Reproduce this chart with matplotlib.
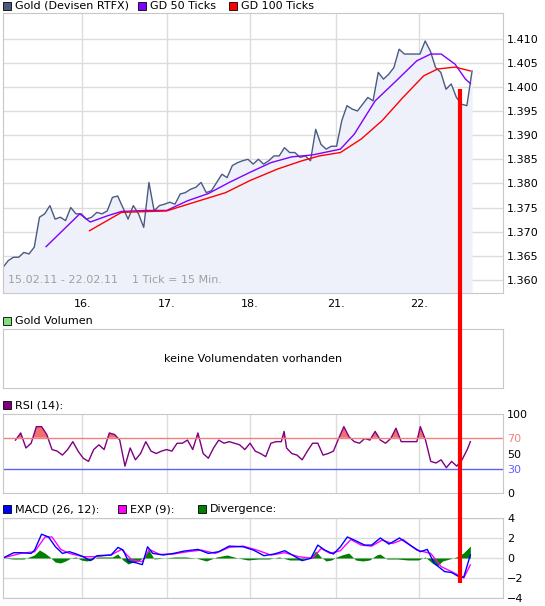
import numpy as np
import matplotlib
matplotlib.use('Agg')
import matplotlib.pyplot as plt
from matplotlib.patches import Rectangle
from matplotlib.lines import Line2D

W, H = 545, 606

# x unit: position along the time axis (15 min ticks), 16. .. 22. day boundaries
day_pos = [237, 480, 720, 966, 1206]
day_lbl = ['16.', '17.', '18.', '21.', '22.']

price = [1.3626, 1.3640, 1.3647, 1.3647, 1.3657, 1.3654, 1.3668, 1.3730, 1.3737, 1.3754,
         1.3726, 1.3730, 1.3723, 1.3750, 1.3737, 1.3737, 1.3726, 1.3730, 1.3740, 1.3737,
         1.3743, 1.3771, 1.3774, 1.3750, 1.3726, 1.3754, 1.3737, 1.3709, 1.3802, 1.3743,
         1.3754, 1.3757, 1.3761, 1.3757, 1.3778, 1.3781, 1.3788, 1.3792, 1.3802, 1.3781,
         1.3785, 1.3802, 1.3819, 1.3812, 1.3837, 1.3843, 1.3847, 1.3850, 1.3840, 1.3850,
         1.3840, 1.3847, 1.3857, 1.3857, 1.3874, 1.3864, 1.3864, 1.3854, 1.3857, 1.3847,
         1.3912, 1.3881, 1.3871, 1.3877, 1.3877, 1.3930, 1.3961, 1.3954, 1.3950, 1.3964,
         1.3978, 1.3971, 1.4030, 1.4016, 1.4026, 1.4040, 1.4078, 1.4068, 1.4068, 1.4068,
         1.4068, 1.4095, 1.4074, 1.4040, 1.4030, 1.3995, 1.4006, 1.3978, 1.3964, 1.3961,
         1.4033]
price_x = [9 + 15 * i for i in range(len(price))]

gd50_x = [133, 230, 260, 310, 350, 420, 480, 540, 600, 660, 720, 780, 840, 900, 980, 1020,
          1080, 1140, 1200, 1240, 1270, 1310, 1340, 1354]
gd50 = [1.3669, 1.3737, 1.3720, 1.3733, 1.3742, 1.3744, 1.3744, 1.3764, 1.3779, 1.3802,
        1.3823, 1.3843, 1.3855, 1.3859, 1.3871, 1.3902, 1.3971, 1.4012, 1.4054, 1.4068,
        1.4068, 1.4047, 1.4016, 1.4007]
gd100_x = [258, 350, 480, 560, 650, 720, 800, 870, 920, 980, 1040, 1100, 1160, 1220, 1260,
           1310, 1354]
gd100 = [1.3702, 1.3740, 1.3743, 1.3761, 1.3781, 1.3806, 1.3830, 1.3847, 1.3857, 1.3864,
         1.3892, 1.3930, 1.3978, 1.4023, 1.4037, 1.4041, 1.4033]

rsi_x = [45, 60, 75, 90, 105, 120, 135, 150, 165, 180, 195, 210, 225, 240, 255, 270, 285,
         300, 315, 330, 345, 360, 375, 390, 405, 420, 435, 450, 465, 480, 495, 510, 525,
         540, 555, 570, 585, 600, 615, 630, 645, 660, 675, 690, 705, 720, 735, 750, 765,
         780, 795, 810, 818, 825, 840, 855, 870, 885, 900, 915, 930, 945, 960, 975, 990,
         1005, 1020, 1035, 1050, 1065, 1080, 1095, 1110, 1125, 1140, 1155, 1170, 1185, 1200,
         1210, 1225, 1240, 1255, 1270, 1285, 1300, 1315, 1330, 1345, 1354]
rsi = [67, 76, 57, 63, 84, 84, 74, 55, 53, 48, 55, 65, 53, 44, 40, 55, 61, 55, 76, 74, 67,
       34, 57, 42, 50, 65, 53, 50, 53, 55, 53, 63, 63, 67, 55, 76, 50, 44, 57, 67, 63, 65,
       63, 61, 55, 63, 53, 50, 46, 63, 65, 65, 78, 57, 50, 48, 42, 53, 63, 63, 48, 50, 53,
       69, 84, 71, 65, 63, 69, 67, 78, 67, 63, 69, 82, 65, 65, 65, 65, 84, 67, 40, 38, 42,
       32, 40, 34, 42, 55, 65]

macd_x = [9, 40, 60, 90, 100, 120, 140, 160, 180, 200, 220, 240, 260, 280, 320, 340, 355,
          370, 390, 410, 425, 440, 470, 500, 530, 570, 600, 630, 660, 700, 730, 760, 790,
          820, 850, 870, 895, 915, 935, 960, 980, 1000, 1020, 1050, 1070, 1095, 1120, 1150,
          1180, 1210, 1230, 1250, 1280, 1300, 1320, 1335, 1354]
macd = [0, 0.53, 0.53, 0.46, 0.79, 2.38, 2.1, 1.12, 0.46, 0.63, 0.4, 0.13, -0.26, 0.23,
        0.3, 1.06, 0.79, -0.36, -0.46, -0.66, 1.12, 0.46, 0.3, 0.46, 0.69, 0.86, 0.46, 0.63,
        1.19, 1.12, 0.79, 0.23, 0.4, 0.73, 0.13, -0.26, -0.03, 1.29, 0.79, 0.4, 1.12, 2.1,
        1.79, 1.29, 1.29, 2.0, 1.39, 2.0, 1.29, 0.63, 0.86, -0.53, -1.36, -1.45, -1.85,
        -1.92, 0.3]
exp_x = [9, 60, 100, 130, 150, 175, 200, 240, 270, 320, 350, 380, 410, 430, 460, 500, 540,
         580, 620, 660, 700, 740, 780, 820, 860, 900, 925, 950, 980, 1010, 1040, 1070, 1100,
         1130, 1160, 1200, 1240, 1270, 1300, 1335, 1354]
exp9 = [0, 0.46, 0.63, 2.1, 2.1, 0.86, 0.46, 0.13, 0.13, 0.3, 0.86, -0.2, -0.36, 0.86,
        0.36, 0.4, 0.63, 0.79, 0.46, 1.06, 1.19, 0.79, 0.3, 0.53, 0.13, -0.03, 0.96, 0.46,
        0.73, 1.85, 1.29, 1.19, 1.79, 1.45, 1.85, 0.79, 0.46, -0.86, -1.36, -2.0, -0.69]
div_x = [9, 39, 69, 99, 114, 129, 144, 159, 174, 189, 204, 219, 234, 249, 264, 279, 294,
         309, 324, 339, 354, 369, 384, 399, 414, 429, 444, 474, 504, 534, 564, 594, 624,
         654, 684, 714, 744, 774, 804, 834, 864, 894, 909, 924, 939, 954, 969, 984, 1004,
         1024, 1044, 1064, 1084, 1094, 1114, 1144, 1174, 1204, 1224, 1244, 1259, 1274, 1294,
         1314, 1334, 1354]
div = [0, -0.1, -0.1, 0.3, 0.8, 0.5, 0.1, -0.4, -0.5, -0.3, 0, 0.1, -0.2, -0.3, -0.2, 0.1,
       0.1, 0.1, 0.1, 0.4, -0.2, -0.6, -0.4, -0.3, 0.1, 0.8, -0.1, 0, 0.1, 0.1, 0, -0.3,
       0.1, 0.3, 0, -0.2, -0.1, -0.1, 0.1, -0.2, -0.2, 0.1, 0.7, 0.1, -0.3, -0.2, 0.1, 0.3,
       0.5, -0.2, -0.3, -0.2, 0.3, 0.4, -0.1, -0.1, -0.2, -0.2, 0.1, -0.5, -0.8, -0.3, -0.1,
       0.1, 0.5, 1.2]

GRID = '#dcdcdc'
EDGE = '#c8c8c8'
XLIM = (9, 1448)

fig = plt.figure(figsize=(W / 100, H / 100), dpi=100)
plt.rcParams['font.family'] = 'DejaVu Sans'


def panel(top, bottom, left=3, right=503):
    ax = fig.add_axes([left / W, 1 - bottom / H, (right - left) / W, (bottom - top) / H])
    for s in ax.spines.values():
        s.set_color(EDGE)
    ax.set_xlim(*XLIM)
    ax.yaxis.tick_right()
    ax.tick_params(length=0, labelsize=8, colors='black', pad=3)
    ax.set_xticks(day_pos)
    ax.set_xticklabels([])
    ax.grid(True, color=GRID, lw=1)
    ax.set_axisbelow(True)
    return ax


def legend(y, items):
    for x, col, txt in items:
        fig.add_artist(Rectangle((x / W, 1 - (y + 4) / H), 8 / W, 8 / H, facecolor=col,
                                 edgecolor='black', lw=0.6, transform=fig.transFigure))
        fig.text((x + 12) / W, 1 - y / H, txt, fontsize=8, va='center', ha='left')


# price
ax = panel(13, 293)
ax.fill_between(price_x, price, 1.3, color='#eef1fa', lw=0)
ax.plot(price_x, price, color='#4a5a80', lw=1)
ax.plot(gd50_x, gd50, color='#8000ff', lw=1)
ax.plot(gd100_x, gd100, color='#ff0000', lw=1)
ax.set_ylim(1.3573, 1.4153)
ax.set_yticks(np.arange(1.360, 1.4101, 0.005))
ax.set_yticklabels(['%.3f' % v for v in np.arange(1.360, 1.4101, 0.005)])
ax.set_xticklabels(day_lbl)
ax.tick_params(axis='x', pad=4)
ax.text(0.01, 0.03, '15.02.11 - 22.02.11    1 Tick = 15 Min.', transform=ax.transAxes,
        fontsize=8, color='#a0a0a0', va='bottom')
legend(6, [(3, '#4a5a80', 'Gold (Devisen RTFX)'), (138, '#8000ff', 'GD 50 Ticks'),
           (229, '#ff0000', 'GD 100 Ticks')])

# volume
axv = panel(329, 388)
axv.grid(False)
axv.set_yticks([])
axv.set_xticks([])
axv.text(0.5, 0.5, 'keine Volumendaten vorhanden', transform=axv.transAxes,
         ha='center', va='center', fontsize=8)
legend(321, [(3, '#80e080', 'Gold Volumen')])

# RSI
axr = panel(414, 493)
axr.yaxis.grid(False)
axr.plot(rsi_x, rsi, color='#800080', lw=1)
axr.fill_between(rsi_x, rsi, 70, where=np.array(rsi) > 70, interpolate=True,
                 color='#f07070', lw=0)
axr.axhline(70, color='#f08080', lw=1)
axr.axhline(30, color='#6060ff', lw=1)
axr.set_ylim(0, 100)
axr.set_yticks([0, 30, 50, 70, 100])
for lab, c in zip(axr.get_yticklabels(), ['black', '#6060ff', 'black', '#f08080', 'black']):
    lab.set_color(c)
legend(405, [(3, '#800080', 'RSI (14):')])

# MACD
axm = panel(518, 598)
axm.fill_between(div_x, div, 0, color='#008000', lw=0)
axm.plot(exp_x, exp9, color='#ff00ff', lw=1)
axm.plot(macd_x, macd, color='#0000ff', lw=1)
axm.set_ylim(-4, 4)
axm.set_yticks([-4, -2, 0, 2, 4])
axm.set_yticklabels(['\u22124', '\u22122', '0', '2', '4'])
legend(509, [(3, '#0000ff', 'MACD (26, 12):'), (118, '#ff00ff', 'EXP (9):'),
             (198, '#008000', 'Divergence:')])

# red marker line drawn over the panels
fig.add_artist(Line2D([460 / W, 460 / W], [1 - 89 / H, 1 - 583 / H], color='#ff0000',
                      lw=3, transform=fig.transFigure, solid_capstyle='butt'))

fig.savefig('out.png', dpi=100)
